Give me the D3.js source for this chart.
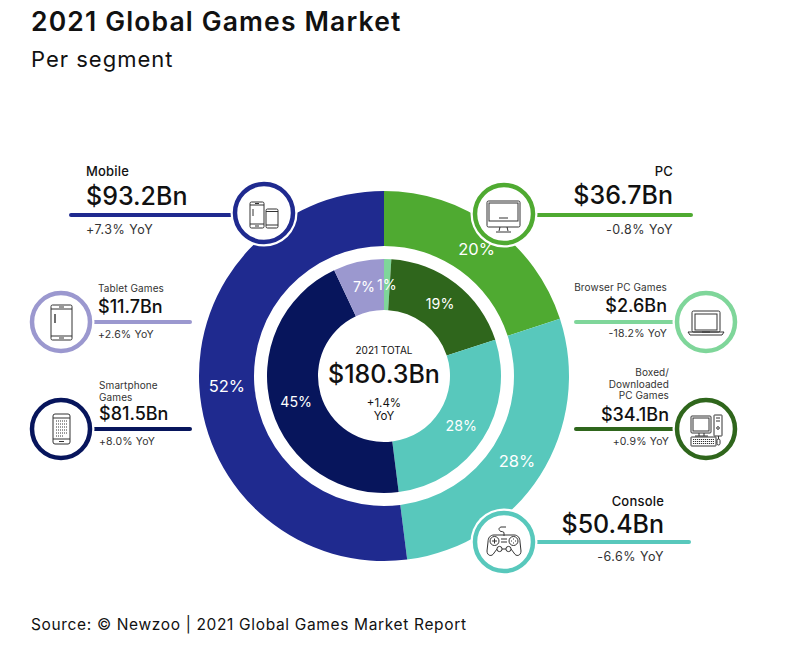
<!DOCTYPE html>
<html><head><meta charset="utf-8">
<script src="https://cdn.jsdelivr.net/npm/d3@7/dist/d3.min.js"></script>
<style>html,body{margin:0;padding:0;background:#fff}svg{display:block}text{font-family:Inter,"Noto Sans",sans-serif;fill:#111}</style>
</head><body><svg id="c" width="790" height="654"></svg>
<script>
// ---- data ----
const outerCategories = ["PC","Console","Mobile"];
const outerShares = [20,28,52];
const outerColors = ["#4faa31","#58c8bc","#1f2a8f"];
const innerCategories = ["Browser PC Games","Boxed/Downloaded PC Games","Console","Smartphone Games","Tablet Games"];
const innerShares = [1,19,28,45,7];
const innerColors = ["#7fd69a","#2f661c","#58c8bc","#07155c","#9b98cf"];
const calloutLabels = [["Mobile"],["Tablet Games"],["Smartphone","Games"],["PC"],["Browser PC Games"],["Boxed/","Downloaded","PC Games"],["Console"]];
const calloutValues = ["$93.2Bn","$11.7Bn","$81.5Bn","$36.7Bn","$2.6Bn","$34.1Bn","$50.4Bn"];
const calloutYoY = ["+7.3% YoY","+2.6% YoY","+8.0% YoY","-0.8% YoY","-18.2% YoY","+0.9% YoY","-6.6% YoY"];
const calloutColors = ["#1f2a8f","#9b98cf","#07155c","#4faa31","#7fd69a","#2f661c","#58c8bc"];
const calloutIcons = ["phones","tablet","phone","monitor","laptop","desktop","gamepad"];
// ---- layout ----
const cx=384, cy=376;
const svg=d3.select("#c");
const layouts=[
 {big:1,cx:264,cy:213,x0:71,x1:236,ly:215,tx:86,anchor:"start",lb:176,vb:205,yb:234},
 {big:0,cx:61,cy:322,x0:92,x1:190,ly:322,tx:98,anchor:"start",lb:292,vb:313,yb:338},
 {big:0,cx:61,cy:429,x0:92,x1:190,ly:429,tx:99,anchor:"start",lb:389,vb:420,yb:445},
 {big:1,cx:504,cy:214,x0:533,x1:691,ly:215,tx:673,anchor:"end",lb:176,vb:204,yb:234},
 {big:0,cx:706,cy:322,x0:576,x1:676,ly:322,tx:667,anchor:"end",lb:291,vb:312,yb:337},
 {big:0,cx:706,cy:429,x0:576,x1:676,ly:429,tx:669,anchor:"end",lb:376,vb:421,yb:445},
 {big:1,cx:504,cy:542,x0:533,x1:689,ly:542,tx:664,anchor:"end",lb:506,vb:533,yb:561}
];
function T(x,y,s,size,weight,anchor,ls){
  return svg.append("text").attr("x",x).attr("y",y).attr("font-size",size).attr("font-weight",weight||400)
   .attr("text-anchor",anchor||"start").attr("letter-spacing",ls||0).text(s);
}
// titles
T(31,31,"2021 Global Games Market",26.5,600,"start",1.15);
T(31,67,"Per segment",22,400,"start",1);
T(31,630,"Source: © Newzoo | 2021 Global Games Market Report",15.5,400,"start",0.65);
// rings
const pie=d3.pie().sort(null).value(d=>d);
const outerArc=d3.arc().innerRadius(130).outerRadius(185);
const innerArc=d3.arc().innerRadius(66).outerRadius(117);
const g=svg.append("g").attr("transform",`translate(${cx},${cy})`);
function ring(values,colors,arc){
  const arcs=pie(values);
  g.selectAll(null).data(arcs).enter().append("path").attr("d",arc).attr("fill",(d,i)=>colors[i]);
  return arcs;
}
const outerPie=ring(outerShares,outerColors,outerArc);
const innerPie=ring(innerShares,innerColors,innerArc);
// centre
T(cx,354,"2021 TOTAL",10,400,"middle");
T(cx,383,"$180.3Bn",25,500,"middle");
T(cx,407,"+1.4%",11.5,400,"middle");
T(cx,420,"YoY",11.5,400,"middle");
// icons
const IC="#333";
function icon(sel,type){
  const R=(x,y,w,h,r,f)=>sel.append("rect").attr("x",x).attr("y",y).attr("width",w).attr("height",h).attr("rx",r||0).attr("fill",f||"none").attr("stroke",IC).attr("stroke-width",1);
  const P=(d,sw)=>sel.append("path").attr("d",d).attr("fill","none").attr("stroke",IC).attr("stroke-width",sw||1);
  if(type==="phones"){
    R(-14,-11,14,26,1.5);P("M-14,-8H0M-14,11H0M-9,-9.5H-5M-9,13H-5");P("M-11,-4V3",1);
    R(2,-4,12,19,1.5);P("M2,-1.5H14M2,12H14");
  } else if(type==="tablet"){
    R(-10,-17,21,35,1.5);P("M-10,-13H11M-10,14H11M-2,-15H3M-2,16H3");P("M-6,-8V1",1.4);
  } else if(type==="phone"){
    R(-8,-15,17,30,2);P("M-8,-11H9M-8,10H9M-2,12.5H3");
    sel.append("path").attr("d","M-5,-8H6M-5,-5H6M-5,-2H6M-5,1H6M-5,4H6M-5,7H3").attr("stroke",IC).attr("stroke-dasharray","1 1").attr("fill","none");
  } else if(type==="monitor"){
    R(-17,-13,33,26,1.5);R(-15,-11,29,18,0);P("M-4,13L-5,17M3,13L4,17M-8,18H7");P("M-5,4H4",1);
  } else if(type==="laptop"){
    R(-14,-11,28,21,1.5);R(-11,-8,22,16,0);P("M-18,10H18L16,13H-16ZM-4,10H4",1);
  } else if(type==="desktop"){
    R(-15,-13,20,17,1);R(-13,-11,16,13,0);P("M-7,4V7M-2,4V7M-11,7H2");
    R(-15,8,25,9,0.5);sel.append("path").attr("d","M-13,10.5H8M-13,12.5H8M-13,14.5H8").attr("stroke",IC).attr("stroke-dasharray","1.2 0.8").attr("fill","none");
    R(8,-14,8,21,0.5);P("M10,-11H14M10,-8H14");sel.append("circle").attr("cx",12).attr("cy",-1).attr("r",1.3).attr("fill","none").attr("stroke",IC);
    R(11,10,3,6,1.5);P("M12.5,7V10");
  } else {
    P("M0,-6V-9C0,-11 -3,-10 -4,-11S-6,-14 -3,-15H2");
    P("M-10,-7H10C14,-7 16,-4 16,0L17,9C17,14 12,15 10,11L7,7H-7L-10,11C-12,15 -17,14 -17,9L-16,0C-16,-4 -14,-7 -10,-7Z");
    sel.append("circle").attr("cx",-9.5).attr("cy",-1).attr("r",4.5).attr("fill","none").attr("stroke",IC);
    sel.append("circle").attr("cx",9.5).attr("cy",-1).attr("r",4.5).attr("fill","none").attr("stroke",IC);
    sel.append("circle").attr("cx",-4.5).attr("cy",7).attr("r",2.6).attr("fill","#fff").attr("stroke",IC);
    sel.append("circle").attr("cx",4.5).attr("cy",7).attr("r",2.6).attr("fill","#fff").attr("stroke",IC);
    P("M-12,-1H-7M-9.5,-3.5V1.5M7,-1H8M11,-1H12M9.5,-3.5V-2.5M9.5,0.5V1.5M-3,-3H3M-3,0H3");
  }
}
// callouts
calloutValues.forEach((v,i)=>{
  const L=layouts[i], c=calloutColors[i];
  svg.append("line").attr("x1",L.x0).attr("x2",L.x1).attr("y1",L.ly).attr("y2",L.ly).attr("stroke",c).attr("stroke-width",4).attr("stroke-linecap","round");
  svg.append("circle").attr("cx",L.cx).attr("cy",L.cy).attr("r",33.5).attr("fill","#fff");
  svg.append("circle").attr("cx",L.cx).attr("cy",L.cy).attr("r",29).attr("fill","#fff").attr("stroke",c).attr("stroke-width",4.5);
  const ig=svg.append("g").attr("transform",`translate(${L.cx},${L.cy})`);icon(ig,calloutIcons[i]);
  const ls=calloutLabels[i], fs=L.big?13:10;
  ls.forEach((s,k)=>T(L.tx,L.lb+k*(ls.length>2?11.5:12),s,fs,L.big?500:400,L.anchor,L.big?0.2:0.1).style("fill",L.big?"#111":"#333"));
  T(L.tx,L.vb,v,L.big?25:18,500,L.anchor);
  T(L.tx,L.yb,calloutYoY[i],L.big?12.5:10.5,400,L.anchor,L.big?0.5:0.15).style("fill","#333");
});
// percentage labels on top of the rings
function pct(arcs,arc,size){
  g.selectAll(null).data(arcs).enter().append("text")
   .attr("transform",d=>`translate(${arc.centroid(d)})`).attr("text-anchor","middle").attr("dy","0.4em")
   .attr("font-size",size).style("fill","#fff").text(d=>d.data+"%");
}
pct(outerPie,outerArc,16.5);
pct(innerPie,innerArc,14.2);
</script></body></html>
